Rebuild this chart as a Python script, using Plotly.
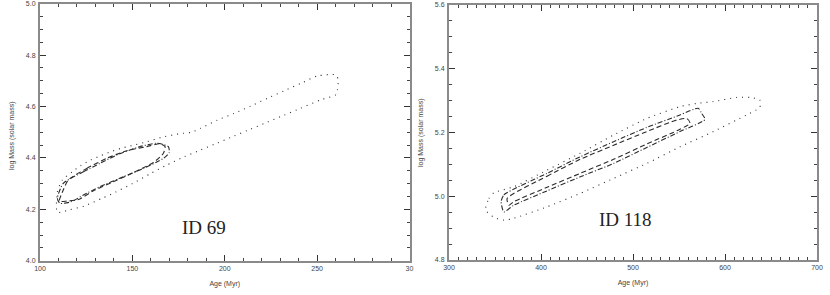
import plotly.graph_objects as go

# ---------------- data ----------------
# Left panel (ID 69): contours in Age (Myr) vs log Mass
l_outer_x = [109.4, 109.4, 112.1, 117.5, 122.0, 127.4, 132.9, 138.3, 143.7, 150.9, 158.1, 165.3, 176.2, 181.6,
             187.0, 196.0, 205.1, 214.1, 223.1, 232.1, 241.2, 250.2, 260.1, 261.4, 261.0, 260.1, 252.0, 241.0,
             232.0, 223.0, 214.0, 205.0, 196.0, 187.0, 178.0, 168.0, 160.0, 150.0, 141.0, 134.0, 124.0, 116.0,
             109.4]
l_outer_y = [4.188, 4.268, 4.314, 4.346, 4.370, 4.392, 4.409, 4.424, 4.437, 4.450, 4.463, 4.479, 4.495, 4.499,
             4.515, 4.547, 4.573, 4.602, 4.632, 4.661, 4.690, 4.719, 4.723, 4.704, 4.665, 4.646, 4.626, 4.593,
             4.566, 4.539, 4.512, 4.485, 4.458, 4.431, 4.404, 4.370, 4.340, 4.300, 4.267, 4.244, 4.213, 4.198,
             4.188]
l_mid_x = [112.6, 123.5, 132.5, 141.5, 154.2, 163.2, 169.5, 169.9, 166.8, 156.0, 145.2, 132.5, 123.5, 117.2,
           110.8, 109.4, 112.6]
l_mid_y = [4.301, 4.346, 4.379, 4.411, 4.444, 4.457, 4.444, 4.420, 4.398, 4.359, 4.327, 4.288, 4.256, 4.230,
           4.223, 4.243, 4.301]
l_inner_x = [115.3, 125.3, 136.1, 146.9, 157.8, 165.0, 167.7, 166.8, 161.4, 150.5, 139.7, 128.9, 120.8, 114.4,
             110.5, 112.6, 115.3]
l_inner_y = [4.314, 4.359, 4.398, 4.428, 4.444, 4.455, 4.444, 4.418, 4.382, 4.343, 4.307, 4.272, 4.238, 4.232,
             4.232, 4.275, 4.314]

# Right panel (ID 118)
r_outer_x = [339.7, 343.4, 348.8, 370.5, 406.6, 442.7, 478.9, 515.0, 551.1, 569.2, 587.3, 612.6, 627.1, 637.8,
             637.8, 623.4, 587.3, 551.1, 515.0, 478.9, 442.7, 406.6, 370.5, 359.6, 348.8, 339.7]
r_outer_y = [4.957, 4.993, 5.011, 5.030, 5.082, 5.135, 5.192, 5.244, 5.281, 5.291, 5.297, 5.310, 5.310, 5.302,
             5.279, 5.255, 5.203, 5.155, 5.103, 5.056, 5.009, 4.967, 4.931, 4.925, 4.934, 4.957]
r_mid_x = [356.7, 359.6, 406.6, 442.7, 478.9, 515.0, 551.1, 570.9, 574.6, 578.2, 551.1, 515.0, 478.9, 442.7,
           406.6, 370.5, 359.6, 356.7]
r_mid_y = [4.983, 5.004, 5.072, 5.124, 5.171, 5.216, 5.255, 5.276, 5.260, 5.241, 5.203, 5.153, 5.103, 5.061,
           5.017, 4.972, 4.951, 4.983]
r_inner_x = [363.2, 406.6, 442.7, 478.9, 515.0, 547.5, 558.4, 562.0, 551.1, 515.0, 478.9, 442.7, 406.6, 370.5,
             365.1, 363.2]
r_inner_y = [4.993, 5.063, 5.116, 5.160, 5.203, 5.239, 5.244, 5.229, 5.210, 5.164, 5.116, 5.072, 5.028, 4.983,
             4.972, 4.993]

# ticks / labels
l_xticks = [100, 150, 200, 250, 300]
l_xticktext = ["100", "150", "200", "250", "30"]   # last label is cut to "30" in the reference
l_yticks = [4.0, 4.2, 4.4, 4.6, 4.8, 5.0]
r_xticks = [300, 400, 500, 600, 700]
r_yticks = [4.8, 5.0, 5.2, 5.4, 5.6]
x_minor, y_minor = 10, 0.05
x_title = "Age (Myr)"
y_title = "log Mass (solar mass)"
labels = ["ID 69", "ID 118"]
label_pos = [(188.9, 4.129), (491.9, 4.928)]

# ---------------- figure ----------------
LINE = "#2a2a2a"
DOT = "1px,5px"
DASHDOT = "5px,2px,1px,2px"
DASH = "5px,3px"

fig = go.Figure()
for xs, ys, dash, xa, ya in [
    (l_outer_x, l_outer_y, DOT, "x", "y"),
    (l_mid_x, l_mid_y, DASHDOT, "x", "y"),
    (l_inner_x, l_inner_y, DASH, "x", "y"),
    (r_outer_x, r_outer_y, DOT, "x2", "y2"),
    (r_mid_x, r_mid_y, DASHDOT, "x2", "y2"),
    (r_inner_x, r_inner_y, DASH, "x2", "y2"),
]:
    fig.add_trace(go.Scatter(x=xs, y=ys, mode="lines", xaxis=xa, yaxis=ya,
                             line=dict(color=LINE, width=1.1, dash=dash, shape="spline", smoothing=0.6),
                             showlegend=False, hoverinfo="skip"))

FONT = "Liberation Sans Narrow, Liberation Sans, Arial, sans-serif"
tickfont = dict(family=FONT, size=7, color="#444")
titlefont = dict(family=FONT, size=7, color="#444")


def axis(domain, rng, anchor, tickvals, ticktext, mdtick, title=None, standoff=0, lstand=0):
    d = dict(domain=domain, range=rng, anchor=anchor, tickmode="array",
             tickvals=tickvals, ticktext=ticktext,
             showline=True, linecolor="#8a8a8a", linewidth=2, mirror="allticks",
             ticks="inside", ticklen=6, tickwidth=1, tickcolor="#333",
             showgrid=False, zeroline=False, tickfont=tickfont, automargin=False,
             ticklabeloverflow="allow", ticklabelstandoff=lstand,
             minor=dict(tickmode="linear", tick0=rng[0], dtick=mdtick, ticks="inside", ticklen=3,
                        tickwidth=1, tickcolor="#444", showgrid=False))
    if title:
        d["title"] = dict(text=title, font=titlefont, standoff=standoff)
    return d


fig.update_layout(
    width=830, height=295, margin=dict(l=0, r=0, t=0, b=0),
    paper_bgcolor="white", plot_bgcolor="white",
    xaxis=axis([40 / 830, 409.5 / 830], [100, 300], "y", l_xticks, l_xticktext,
               x_minor, x_title, 10),
    yaxis=axis([1 - 260.7 / 295, 1 - 3.7 / 295], [4.0, 5.0], "x", l_yticks,
               [f"{v:.1f}" for v in l_yticks], y_minor, lstand=1),
    xaxis2=axis([449 / 830, 817 / 830], [300, 700], "y2", r_xticks, [str(v) for v in r_xticks],
                x_minor, x_title, 10),
    yaxis2=axis([1 - 260 / 295, 1 - 5 / 295], [4.8, 5.6], "x2", r_yticks,
                [f"{v:.1f}" for v in r_yticks], y_minor, lstand=1),
)

# y-axis titles as rotated annotations (left of each panel)
for px, py in [(12 / 830, 1 - 136 / 295), (421 / 830, 1 - 133 / 295)]:
    fig.add_annotation(x=px, y=py, xref="paper", yref="paper", text=y_title, textangle=-90,
                       showarrow=False, font=titlefont, xanchor="center", yanchor="middle")

for (tx, ty), txt, xa, ya in zip(label_pos, labels, ["x", "x2"], ["y", "y2"]):
    fig.add_annotation(x=tx, y=ty, xref=xa, yref=ya, text=txt, showarrow=False,
                       font=dict(family="Liberation Serif, Times New Roman, serif", size=19, color="#222"))

fig.write_html("out.html", config={"displayModeBar": False},
               post_script="document.body.style.margin='0';document.body.style.overflow='hidden';")
